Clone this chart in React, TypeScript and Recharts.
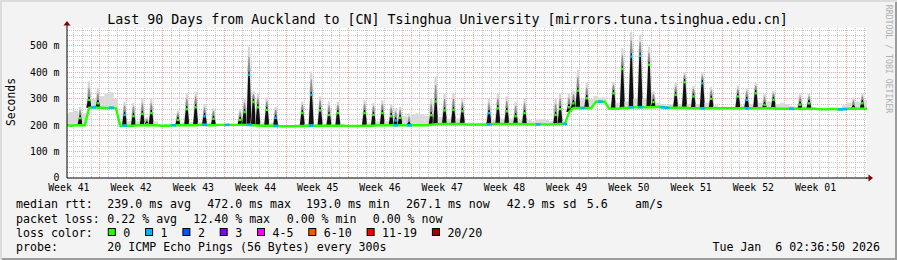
import { Bar, CartesianGrid, ComposedChart, Line, XAxis, YAxis } from 'recharts'

// half-day samples, Oct 8 2025 -> Jan 6 2026 (ms)
// baseline median level
const baseRtt = [
  200, 198, 200, 200, 200, 266, 268, 266, 266, 264,
  266, 264, 198, 198, 198, 198, 200, 200, 200, 200,
  200, 198, 198, 198, 200, 200, 200, 200, 200, 200,
  201, 201, 200, 200, 201, 201, 201, 201, 201, 201,
  201, 201, 200, 199, 198, 198, 198, 197, 196, 196,
  196, 196, 197, 197, 198, 198, 198, 198, 198, 198,
  198, 198, 198, 197, 197, 197, 197, 198, 198, 198,
  200, 200, 200, 200, 200, 200, 200, 200, 200, 200,
  200, 200, 202, 204, 205, 205, 205, 205, 205, 205,
  202, 202, 202, 202, 202, 203, 205, 205, 205, 205,
  205, 205, 205, 204, 203, 203, 203, 203, 203, 203,
  204, 205, 205, 250, 265, 265, 265, 265, 265, 289,
  289, 289, 262, 262, 262, 265, 265, 268, 268, 268,
  268, 268, 268, 270, 268, 266, 266, 266, 266, 266,
  264, 264, 264, 264, 264, 264, 264, 264, 264, 264,
  264, 264, 264, 264, 264, 264, 264, 264, 264, 264,
  262, 262, 262, 262, 262, 262, 262, 262, 262, 261,
  260, 260, 261, 261, 260, 261, 262, 262, 262, 262,
  262,
]

// daily peak (top of the dark spike)
const peakRtt = [
  200, 198, 200, 239, 200, 308, 268, 295, 266, 264,
  266, 264, 198, 251, 198, 246, 200, 255, 215, 258,
  200, 198, 198, 198, 200, 232, 200, 273, 200, 280,
  201, 246, 200, 236, 201, 201, 201, 201, 201, 232,
  262, 403, 300, 280, 198, 270, 198, 240, 196, 196,
  196, 196, 197, 258, 198, 327, 198, 268, 198, 251,
  198, 258, 198, 197, 197, 197, 197, 258, 198, 251,
  200, 258, 200, 246, 230, 240, 200, 212, 200, 200,
  200, 200, 250, 302, 205, 268, 205, 270, 205, 265,
  202, 202, 202, 202, 202, 258, 205, 276, 205, 265,
  205, 246, 205, 258, 203, 203, 203, 203, 203, 203,
  251, 273, 205, 280, 295, 343, 265, 314, 265, 289,
  289, 289, 262, 333, 262, 425, 265, 472, 268, 475,
  268, 441, 300, 270, 268, 266, 266, 327, 266, 375,
  264, 321, 264, 371, 264, 312, 264, 264, 264, 264,
  264, 321, 264, 308, 264, 333, 264, 289, 264, 308,
  262, 262, 262, 262, 262, 290, 262, 295, 262, 261,
  260, 260, 261, 261, 260, 261, 262, 276, 262, 295,
  268,
]

// top of the smoke (slowest pings)
const smokeTop = [
  245, 250, 255, 270, 245, 365, 300, 340, 310, 320,
  325, 300, 215, 290, 215, 285, 215, 300, 230, 300,
  215, 205, 205, 205, 205, 255, 210, 320, 212, 327,
  212, 280, 210, 265, 205, 205, 205, 205, 205, 260,
  300, 497, 330, 320, 210, 305, 210, 270, 200, 200,
  200, 200, 200, 290, 205, 403, 205, 310, 205, 290,
  205, 290, 205, 200, 200, 200, 200, 295, 210, 285,
  215, 295, 215, 280, 265, 270, 235, 245, 240, 245,
  240, 235, 300, 384, 230, 320, 225, 320, 225, 300,
  210, 210, 210, 210, 210, 300, 220, 320, 225, 310,
  225, 290, 220, 300, 220, 215, 220, 222, 220, 215,
  300, 320, 215, 320, 330, 410, 300, 360, 300, 310,
  305, 305, 280, 365, 285, 491, 290, 554, 300, 542,
  300, 497, 330, 285, 280, 275, 280, 360, 280, 400,
  280, 350, 280, 400, 285, 345, 275, 270, 270, 270,
  270, 350, 275, 340, 280, 360, 285, 320, 290, 330,
  280, 285, 280, 272, 270, 320, 272, 320, 268, 266,
  266, 266, 266, 266, 266, 275, 285, 305, 290, 320,
  295,
]

// loss bucket index per sample
const lossBucket = [
  0, 0, 0, 0, 0, 0, 1, 0, 0, 0,
  1, 0, 0, 1, 0, 0, 0, 0, 0, 0,
  0, 0, 0, 0, 1, 0, 0, 0, 0, 0,
  0, 1, 0, 0, 0, 0, 1, 0, 0, 0,
  0, 1, 0, 0, 0, 0, 0, 1, 0, 0,
  0, 0, 0, 0, 0, 1, 0, 0, 0, 0,
  0, 0, 0, 0, 0, 0, 0, 0, 0, 0,
  0, 0, 0, 0, 1, 0, 0, 1, 0, 0,
  0, 0, 0, 0, 0, 0, 0, 0, 0, 0,
  0, 0, 0, 0, 0, 1, 0, 0, 0, 0,
  0, 0, 0, 0, 0, 0, 1, 0, 0, 0,
  0, 0, 1, 0, 0, 0, 1, 0, 0, 0,
  1, 0, 0, 0, 0, 0, 0, 1, 0, 1,
  0, 0, 0, 0, 1, 1, 0, 0, 0, 0,
  0, 0, 0, 1, 0, 0, 0, 0, 0, 0,
  0, 0, 0, 1, 0, 0, 0, 0, 0, 0,
  0, 0, 0, 1, 0, 0, 0, 0, 0, 0,
  0, 0, 0, 0, 1, 1, 0, 0, 0, 0,
  0,
]

const weekLabels = [
  'Week 41', 'Week 42', 'Week 43', 'Week 44', 'Week 45', 'Week 46', 'Week 47',
  'Week 48', 'Week 49', 'Week 50', 'Week 51', 'Week 52', 'Week 01',
]
const yTicks = [0, 100, 200, 300, 400, 500]

const lossLabels = ['0', '1', '2', '3', '4-5', '6-10', '11-19', '20/20']
const lossColors = ['#26ff00', '#00b8ff', '#0059ff', '#7e00ff', '#ff00ff', '#ff5500', '#ff0000', '#a10000']

const statsRtt = [
  'median rtt:', '239.0 ms avg', '472.0 ms max', '193.0 ms min',
  '267.1 ms now', '42.9 ms sd', '5.6', 'am/s',
]
const statsLoss = ['packet loss:', '0.22 % avg', '12.40 % max', '0.00 % min', '0.00 % now']
const probeText = '20 ICMP Echo Pings (56 Bytes) every 300s'
const stamp = 'Tue Jan  6 02:36:50 2026'
const title = 'Last 90 Days from Auckland to [CN] Tsinghua University [mirrors.tuna.tsinghua.edu.cn]'

const rows = baseRtt.map((base, i) => ({
  day: i / 2,
  base,
  peak: peakRtt[i],
  top: smokeTop[i],
  loss: lossBucket[i],
}))

const mono = '"DejaVu Sans Mono", monospace'
const firstWeekStart = 3.71

const weekTicks = weekLabels.map((_, i) => firstWeekStart - 3.5 + i * 7)
const weekLines: number[] = []
const dayLines: number[] = []
for (let d = firstWeekStart - 3; d < 90; d += 1) {
  if (Math.abs((d - firstWeekStart) % 7) < 0.01) weekLines.push(d)
  else dayLines.push(d)
}
const minorY: number[] = []
for (let v = 20; v < 568; v += 20) if (v % 100 !== 0) minorY.push(v)
const majorY = [100, 200, 300, 400, 500]

const rttX = [16, 107.3, 207.3, 306, 406, 506.7, 586.7, 635]
const lossX = [16, 107.3, 193.3, 286.7, 372.7]

// smoke column plus the dark spike from the baseline up to the day's peak
function SmokeSpike(props: any) {
  const { x, y, width, height, payload, index } = props
  if (x == null || y == null) return <g key={`s${index}`} />
  const cx = x + width / 2
  const h = Math.abs(height)
  const yTop = Math.min(y, y + height)
  const yBase = yTop + h
  const span = payload.top - payload.base
  const rise = span > 0 ? ((payload.peak - payload.base) / span) * h : 0
  const yPeak = yBase - rise
  const spiky = rise > 3
  return (
    <g key={`s${index}`}>
      {h > 0 && !spiky && <rect x={cx - 2.4} y={yTop} width={4.8} height={h} fill="#dadada" />}
      {h > 0 && spiky && (
        <polygon
          points={`${cx - 3},${yBase} ${cx - 1},${yTop} ${cx + 1},${yTop} ${cx + 3},${yBase}`}
          fill="#d6d6d6"
        />
      )}
      {spiky && yTop < yPeak - 2 && (
        <polygon
          points={`${cx - 1.4},${yPeak} ${cx + 1.4},${yPeak} ${cx + 0.4},${yTop + (yPeak - yTop) * 0.4} ${cx - 0.4},${yTop + (yPeak - yTop) * 0.4}`}
          fill="#8c8c8c"
        />
      )}
      {spiky && (
        <>
          <polygon
            points={`${cx - 2.6},${yBase} ${cx - 0.7},${yPeak} ${cx + 0.7},${yPeak} ${cx + 2.6},${yBase}`}
            fill="#111"
          />
          <rect x={cx - 1.2} y={yPeak + 2} width={2.4} height={2.4} fill={lossColors[payload.loss]} />
        </>
      )}
    </g>
  )
}

function LossDash(props: any) {
  const { cx, cy, index, payload } = props
  if (cx == null || cy == null || !payload.loss) return <g key={`d${index}`} />
  return (
    <rect key={`d${index}`} x={cx - 2.4} y={cy - 1.3} width={4.8} height={2.6} fill={lossColors[payload.loss]} />
  )
}

export default function App() {
  let boxX = 108.3
  const boxes = lossLabels.map((label, i) => {
    const x = boxX
    boxX += 37.3 + 7 * (label.length - 1)
    return (
      <g key={label}>
        <rect x={x} y={228.5} width={7} height={7} fill={lossColors[i]} stroke="#000" strokeWidth={1} />
        <text x={x + 15} y={236.5}>{label}</text>
      </g>
    )
  })

  return (
    <div
      style={{
        position: 'absolute',
        left: 0,
        top: 0,
        width: 897,
        height: 260,
        background: '#f3f3f3',
        boxShadow: 'inset 2px 2px 0 #dcdcdc, inset -2px -2px 0 #9c9c9c',
        overflow: 'hidden',
      }}
    >
      <div style={{ position: 'absolute', left: 67, top: 28, width: 800, height: 150, background: '#fff' }} />
      <div style={{ position: 'absolute', left: 0, top: 0 }}>
        <ComposedChart width={897} height={260} data={rows} margin={{ top: 28, right: 30, bottom: 62, left: 8 }}>
          <CartesianGrid
            horizontalValues={minorY}
            verticalValues={dayLines}
            stroke="#c8c8c8"
            strokeDasharray="1 1"
            shapeRendering="crispEdges"
          />
          <CartesianGrid
            horizontalValues={majorY}
            verticalValues={weekLines}
            stroke="#f4a4a4"
            strokeDasharray="1 1"
            shapeRendering="crispEdges"
          />
          <XAxis
            dataKey="day"
            type="number"
            domain={[0, 90]}
            allowDataOverflow
            ticks={weekTicks}
            interval={0}
            tickFormatter={(_v: number, i: number) => weekLabels[i]}
            height={20}
            tickLine={false}
            tickSize={0}
            tickMargin={6}
            axisLine={{ stroke: '#000' }}
            tick={{ fontFamily: mono, fontSize: 9.8, fill: '#000' }}
          />
          <YAxis
            type="number"
            domain={[0, 568]}
            allowDataOverflow
            ticks={yTicks}
            interval={0}
            tickFormatter={(v: number) => (v === 0 ? '0' : `${v} m`)}
            width={59}
            tickLine={false}
            tickSize={0}
            tickMargin={7.5}
            axisLine={{ stroke: '#000' }}
            tick={{ fontFamily: mono, fontSize: 9.8, fill: '#000' }}
          />
          <Bar
            dataKey={(d: any) => [d.base, d.top]}
            barSize={4}
            shape={SmokeSpike}
            isAnimationActive={false}
          />
          <Line
            dataKey="base"
            type="linear"
            stroke="#26ff00"
            strokeWidth={2.4}
            dot={LossDash}
            activeDot={false}
            isAnimationActive={false}
          />
        </ComposedChart>
      </div>
      <svg
        width={897}
        height={260}
        style={{ position: 'absolute', left: 0, top: 0, pointerEvents: 'none' }}
        fontFamily={mono}
      >
        <text x={447.5} y={23.5} textAnchor="middle" fontSize={13.3} fill="#000">
          {title}
        </text>
        <text transform="translate(15,102) rotate(-90)" textAnchor="middle" fontSize={11.4} fill="#000">
          Seconds
        </text>
        <text transform="translate(885.5,59) rotate(90)" textAnchor="middle" fontSize={8.2} fill="#b0b0b0">
          RRDTOOL / TOBI OETIKER
        </text>
        <line x1={67} y1={25} x2={67} y2={28} stroke="#000" />
        <polygon points="63.5,25.5 70.5,25.5 67,21" fill="#800000" />
        <line x1={866} y1={178} x2={869} y2={178} stroke="#000" />
        <polygon points="868.5,174.5 868.5,181.5 873,178" fill="#800000" />
        <g fontSize={11.6} fill="#000">
          {statsRtt.map((s, i) => (
            <text key={s} x={rttX[i]} y={208}>{s}</text>
          ))}
          {statsLoss.map((s, i) => (
            <text key={s + i} x={lossX[i]} y={222.5}>{s}</text>
          ))}
          <text x={16} y={236.5}>loss color:</text>
          {boxes}
          <text x={16} y={250.5}>probe:</text>
          <text x={107.3} y={250.5}>{probeText}</text>
          <text x={880} y={250.5} textAnchor="end" xmlSpace="preserve" style={{ whiteSpace: 'pre' }}>
            {stamp}
          </text>
        </g>
      </svg>
    </div>
  )
}
